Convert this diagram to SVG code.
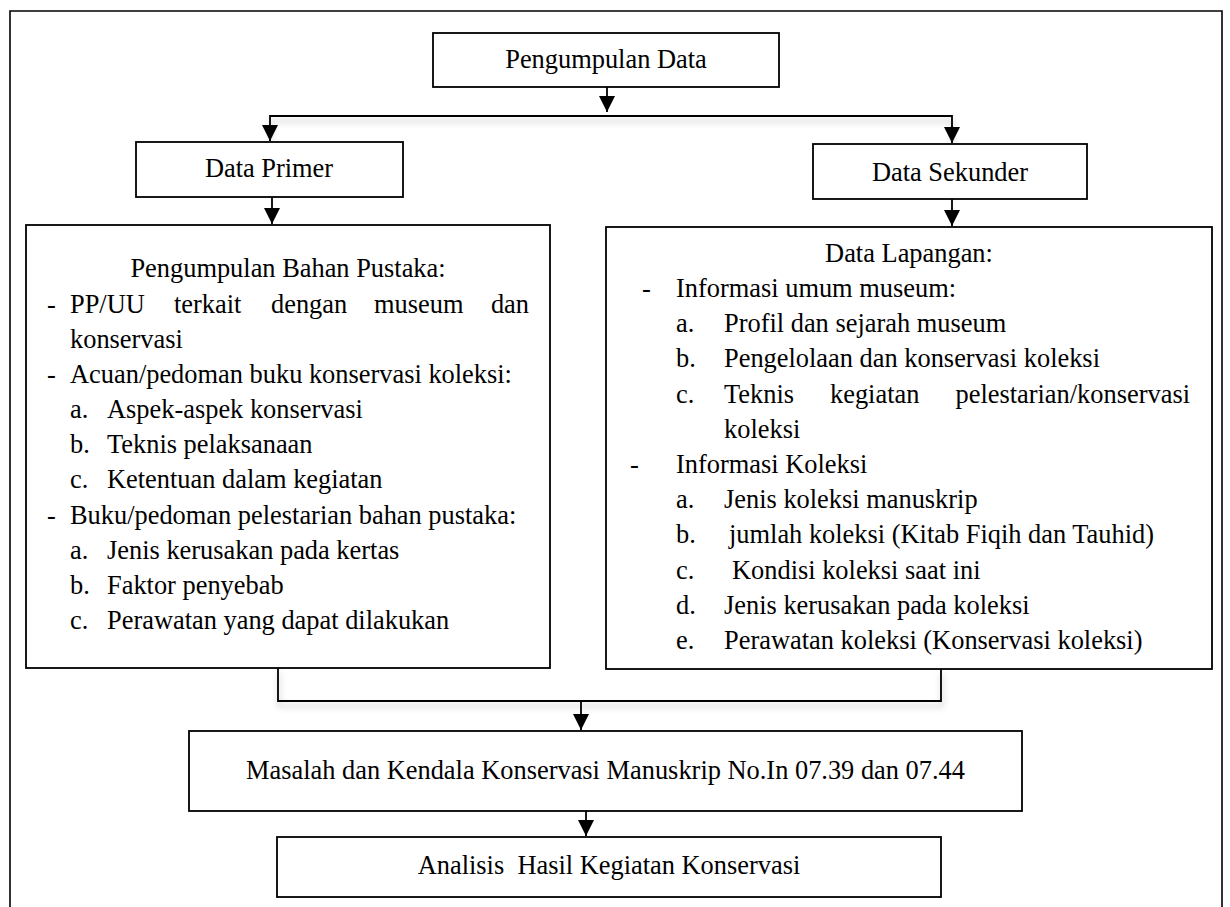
<svg xmlns="http://www.w3.org/2000/svg" width="1230" height="907" viewBox="0 0 1230 907">
  <style>
    .box { fill: #ffffff; stroke: #000000; stroke-width: 1.8; }
    .frame { fill: none; stroke: #000000; stroke-width: 1.6; }
    .t { font-family: "Liberation Serif", "Times New Roman", serif; font-size: 26.4px; fill: #000000; }
    .c { text-anchor: middle; }
    .e { text-anchor: end; }
    .line { fill: none; stroke: #000000; stroke-width: 1.8; }
  </style>
  <defs>
    <marker id="arrow" viewBox="0 0 16 16" refX="16" refY="8" markerWidth="16" markerHeight="16" markerUnits="userSpaceOnUse" orient="auto">
      <path d="M0,0 L16,8 L0,16 Z" fill="#000000"/>
    </marker>
    <filter id="shadow" x="-10%" y="-50%" width="120%" height="300%">
      <feDropShadow dx="1" dy="5" stdDeviation="3" flood-color="#000000" flood-opacity="0.25"/>
    </filter>
  </defs>

  <rect width="1230" height="907" fill="#ffffff"/>
  <path class="frame" d="M10,915 L10,11 L1222,11 L1222,915"/>

  <g id="connectors">
    <line class="line" x1="607" y1="87" x2="607" y2="112" marker-end="url(#arrow)"/>
    <polyline class="line" points="270,140 270,116 952,116 952,142" filter="url(#shadow)"/>
    <line class="line" x1="270" y1="125" x2="270" y2="141" marker-end="url(#arrow)"/>
    <line class="line" x1="952" y1="125" x2="952" y2="143" marker-end="url(#arrow)"/>
    <line class="line" x1="272" y1="197" x2="272" y2="224" marker-end="url(#arrow)"/>
    <line class="line" x1="952" y1="199" x2="952" y2="226" marker-end="url(#arrow)"/>
    <polyline class="line" points="278,668 278,701 941,701 941,669" filter="url(#shadow)"/>
    <line class="line" x1="581" y1="701" x2="581" y2="730" marker-end="url(#arrow)"/>
    <line class="line" x1="586" y1="811" x2="586" y2="836" marker-end="url(#arrow)"/>
  </g>

  <g id="pengumpulan-data">
    <rect class="box" x="433" y="33" width="346" height="54"/>
    <text class="t c" x="606" y="68">Pengumpulan Data</text>
  </g>

  <g id="data-primer">
    <rect class="box" x="136" y="142" width="267" height="55"/>
    <text class="t c" x="269" y="177">Data Primer</text>
  </g>

  <g id="data-sekunder">
    <rect class="box" x="813" y="144" width="274" height="55"/>
    <text class="t c" x="950" y="181">Data Sekunder</text>
  </g>

  <g id="bahan-pustaka">
    <rect class="box" x="26" y="225" width="524" height="443"/>
    <text class="t c" x="288" y="277">Pengumpulan Bahan Pustaka:</text>
    <text class="t" x="47" y="313">-</text>
    <text class="t" x="70" y="313">PP/UU</text>
    <text class="t" x="174" y="313">terkait</text>
    <text class="t" x="271" y="313">dengan</text>
    <text class="t" x="374" y="313">museum</text>
    <text class="t e" x="529" y="313">dan</text>
    <text class="t" x="70" y="348">konservasi</text>
    <text class="t" x="47" y="383">-</text>
    <text class="t" x="70" y="383">Acuan/pedoman buku konservasi koleksi:</text>
    <text class="t" x="70" y="418">a.</text>
    <text class="t" x="107" y="418">Aspek-aspek konservasi</text>
    <text class="t" x="70" y="453">b.</text>
    <text class="t" x="107" y="453">Teknis pelaksanaan</text>
    <text class="t" x="70" y="488">c.</text>
    <text class="t" x="107" y="488">Ketentuan dalam kegiatan</text>
    <text class="t" x="47" y="524">-</text>
    <text class="t" x="70" y="524">Buku/pedoman pelestarian bahan pustaka:</text>
    <text class="t" x="70" y="559">a.</text>
    <text class="t" x="107" y="559">Jenis kerusakan pada kertas</text>
    <text class="t" x="70" y="594">b.</text>
    <text class="t" x="107" y="594">Faktor penyebab</text>
    <text class="t" x="70" y="629">c.</text>
    <text class="t" x="107" y="629">Perawatan yang dapat dilakukan</text>
  </g>

  <g id="data-lapangan">
    <rect class="box" x="606" y="227" width="606" height="442"/>
    <text class="t c" x="909" y="262">Data Lapangan:</text>
    <text class="t" x="642" y="297">-</text>
    <text class="t" x="676" y="297">Informasi umum museum:</text>
    <text class="t" x="676" y="332">a.</text>
    <text class="t" x="724" y="332">Profil dan sejarah museum</text>
    <text class="t" x="676" y="367">b.</text>
    <text class="t" x="724" y="367">Pengelolaan dan konservasi koleksi</text>
    <text class="t" x="676" y="403">c.</text>
    <text class="t" x="724" y="403">Teknis</text>
    <text class="t" x="830" y="403">kegiatan</text>
    <text class="t e" x="1190" y="403">pelestarian/konservasi</text>
    <text class="t" x="724" y="438">koleksi</text>
    <text class="t" x="630" y="473">-</text>
    <text class="t" x="676" y="473">Informasi Koleksi</text>
    <text class="t" x="676" y="508">a.</text>
    <text class="t" x="724" y="508">Jenis koleksi manuskrip</text>
    <text class="t" x="676" y="543">b.</text>
    <text class="t" x="729" y="543">jumlah koleksi (Kitab Fiqih dan Tauhid)</text>
    <text class="t" x="676" y="579">c.</text>
    <text class="t" x="732" y="579">Kondisi koleksi saat ini</text>
    <text class="t" x="676" y="614">d.</text>
    <text class="t" x="724" y="614">Jenis kerusakan pada koleksi</text>
    <text class="t" x="676" y="649">e.</text>
    <text class="t" x="724" y="649">Perawatan koleksi (Konservasi koleksi)</text>
  </g>

  <g id="masalah">
    <rect class="box" x="189" y="731" width="833" height="80"/>
    <text class="t c" x="605.5" y="779">Masalah dan Kendala Konservasi Manuskrip No.In 07.39 dan 07.44</text>
  </g>

  <g id="analisis">
    <rect class="box" x="277" y="837" width="664" height="60"/>
    <text class="t c" x="609" y="874" xml:space="preserve">Analisis  Hasil Kegiatan Konservasi</text>
  </g>
</svg>
